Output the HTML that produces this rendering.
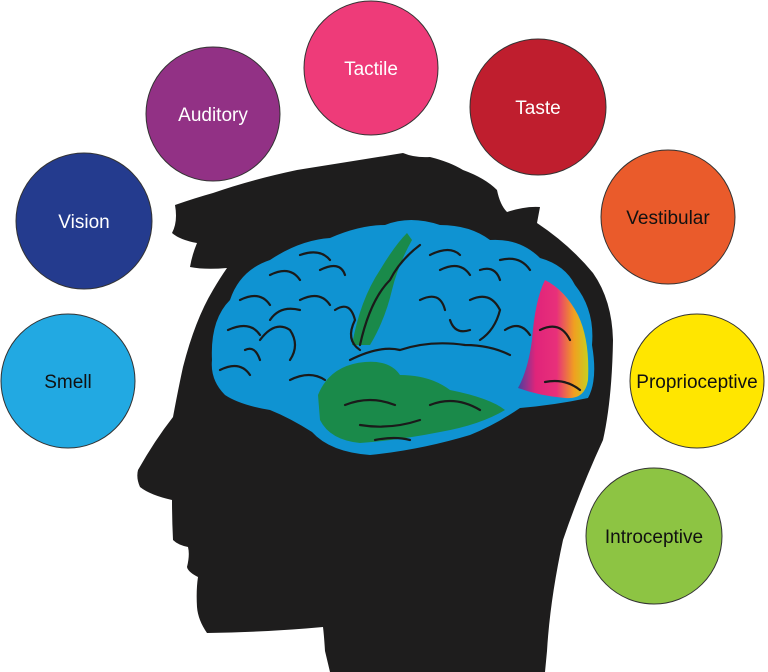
<!DOCTYPE html>
<html><head><style>
html,body{margin:0;padding:0;background:#fff;}
svg{display:block;}
text{font-family:"Liberation Sans",sans-serif;font-size:19px;text-anchor:middle;}
</style></head><body>
<svg width="768" height="672" viewBox="0 0 768 672">
<defs>
<linearGradient id="rb" x1="0" y1="0" x2="1" y2="0">
<stop offset="0" stop-color="#4a3fa0"/><stop offset="0.25" stop-color="#e0247a"/><stop offset="0.55" stop-color="#e8307a"/><stop offset="0.8" stop-color="#f0a020"/><stop offset="1" stop-color="#c8d020"/>
</linearGradient>
</defs>
<g stroke="#333" stroke-width="1">
<circle cx="68" cy="381" r="67" fill="#22a9e2"/>
<circle cx="84" cy="221" r="68" fill="#243b8e"/>
<circle cx="213" cy="114" r="67" fill="#923185"/>
<circle cx="371" cy="68" r="67" fill="#ee3b79"/>
<circle cx="538" cy="107" r="68" fill="#bf1e2e"/>
<circle cx="668" cy="217" r="67" fill="#ea5b2b"/>
<circle cx="697" cy="381" r="67" fill="#ffe600"/>
<circle cx="654" cy="536" r="68" fill="#8dc443"/>
</g>
<text x="68" y="388" fill="#111">Smell</text>
<text x="84" y="228" fill="#fff">Vision</text>
<text x="213" y="121" fill="#fff">Auditory</text>
<text x="371" y="75" fill="#fff">Tactile</text>
<text x="538" y="114" fill="#fff">Taste</text>
<text x="668" y="224" fill="#111">Vestibular</text>
<text x="697" y="388" fill="#111">Proprioceptive</text>
<text x="654" y="543" fill="#111">Introceptive</text>
<path fill="#1e1d1d" d="M175,205 Q195,198 213,193 Q250,180 297,170 Q360,160 403,153 Q415,158 430,157 Q450,162 463,170 Q485,178 497,190 Q500,205 507,212 Q525,206 540,207 L537,223 Q570,245 593,273 Q612,300 613,340 Q612,400 603,440 Q580,490 563,540 Q550,600 547,651 L545,672 L330,672 L325,651 Q324,635 323,627 Q270,632 207,633 Q198,620 197,607 Q196,590 198,577 Q188,572 187,567 Q190,555 188,547 Q178,545 173,540 Q172,520 172,500 Q150,495 140,487 Q136,478 138,470 Q155,440 173,417 Q178,390 183,367 Q195,320 213,290 Q220,278 227,268 Q205,270 190,267 Q192,255 197,243 Q180,240 172,233 Q178,222 175,205 Z"/>
<path fill="#0f93d2" d="M212,360 Q210,320 230,300 Q240,270 270,260 Q300,240 330,238 Q360,225 385,225 Q410,215 440,225 Q470,225 490,240 Q520,238 540,258 Q565,265 575,285 Q595,310 592,345 Q598,380 588,398 Q555,405 520,408 Q495,425 470,435 Q420,450 370,455 Q330,452 312,432 Q290,418 270,410 Q240,405 225,395 Q210,380 212,360 Z"/>
<path fill="#1a8a4a" d="M318,395 Q330,365 365,362 Q390,360 400,375 Q430,375 450,390 Q490,398 505,410 Q480,425 440,432 Q400,440 360,443 Q330,440 320,420 Z"/>
<path fill="#1a8a4a" d="M352,345 Q360,300 380,270 Q395,245 407,233 L412,240 Q398,265 392,290 Q385,320 370,345 Z"/>
<path fill="url(#rb)" d="M532,340 Q535,300 545,280 Q565,290 578,315 Q590,340 588,380 Q585,400 565,398 Q540,396 518,388 Q528,370 532,340 Z"/>
<g fill="none" stroke="#1a1a1a" stroke-width="2.2" stroke-linecap="round">
<path d="M220,370 Q240,360 250,375 M228,330 Q250,320 260,335 M240,300 Q260,290 270,305 M270,275 Q290,265 300,280 M300,255 Q320,248 330,260"/>
<path d="M260,340 Q275,320 290,330 Q300,345 290,360 M300,300 Q320,290 330,305 M320,270 Q340,260 345,275 M245,350 Q255,345 260,360"/>
<path d="M335,310 Q350,300 355,320 Q345,340 360,350 M290,380 Q310,370 325,380 M270,320 Q280,305 300,310"/>
<path d="M350,360 Q380,345 400,350 Q430,340 465,345 Q490,345 510,355 M360,345 Q370,300 390,280 Q400,260 420,245"/>
<path d="M420,300 Q440,290 445,310 M440,270 Q460,260 470,275 M470,300 Q490,290 500,310 Q495,330 480,340 M430,255 Q450,245 460,255"/>
<path d="M500,260 Q520,255 530,270 M505,330 Q520,320 530,335 M450,320 Q455,335 470,330 M480,270 Q495,265 500,280"/>
<path d="M345,405 Q370,395 395,405 M360,425 Q390,430 420,420 M430,405 Q455,395 480,410 M375,440 Q395,436 410,440"/>
<path d="M545,382 Q565,378 580,390 M540,330 Q560,320 570,340"/>
</g>
</svg>
</body></html>
